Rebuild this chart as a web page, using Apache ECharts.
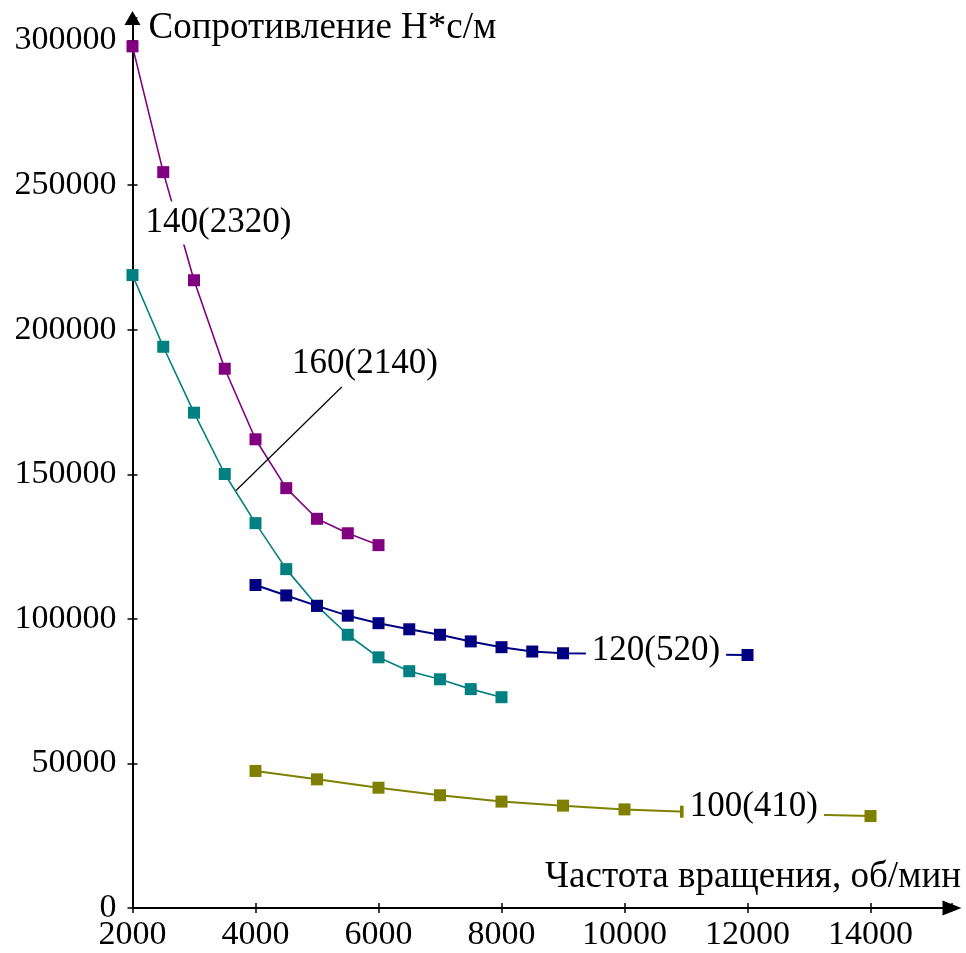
<!DOCTYPE html>
<html>
<head>
<meta charset="utf-8">
<script src="https://cdn.jsdelivr.net/npm/echarts@6/dist/echarts.min.js"></script>
<style>
  html, body { margin: 0; padding: 0; background: #ffffff; }
  #chart { width: 966px; height: 953px; }
</style>
</head>
<body>
<div id="chart"></div>
<script>
// Rotational speed, rpm, and resistance, N*s/m, for four damper settings
const rpm140 = [2000, 2500, 3000, 3500, 4000, 4500, 5000, 5500, 6000];
const res140 = [298000, 254500, 217100, 186500, 162100, 145200, 134600, 129600, 125500];

const rpm160 = [2000, 2500, 3000, 3500, 4000, 4500, 5000, 5500, 6000, 6500, 7000, 7500, 8000];
const res160 = [218900, 194100, 171300, 150100, 133100, 117200, 104500, 94500, 86700, 81900, 79100, 75700, 72900];

const rpm120 = [4000, 4500, 5000, 5500, 6000, 6500, 7000, 7500, 8000, 8500, 9000, 12000];
const res120 = [111700, 108100, 104500, 101100, 98500, 96400, 94500, 92200, 90200, 88700, 88100, 87500];

const rpm100 = [4000, 5000, 6000, 7000, 8000, 9000, 10000, 11000, 14000];
const res100 = [47400, 44500, 41600, 39000, 36800, 35400, 34100, 33300, 31800];

// Curve captions and the leader line for the 160 curve, in data units
const captionText = ['140(2320)', '160(2140)', '120(520)', '100(410)'];
const captionRpm = [3398, 5780, 10512, 12102];
const captionRes = [236900, 188100, 88900, 34900];
const leaderRpm = [5402, 3683];
const leaderRes = [180200, 144400];

// Axis tick labels
const xTicks = [2000, 4000, 6000, 8000, 10000, 12000, 14000];
const yTicks = [0, 50000, 100000, 150000, 200000, 250000, 300000];

const FONT = '"Liberation Serif", "Times New Roman", serif';
const X_MIN = 2000, X_MAX = 15325, Y_MIN = 0, Y_MAX = 307800;

const zip = (xs, ys) => xs.map((x, i) => [x, ys[i]]);

function curve(name, xs, ys, color, width) {
  return {
    name: name,
    type: 'line',
    data: zip(xs, ys),
    symbol: 'rect',
    symbolSize: 12,
    showAllSymbol: true,
    lineStyle: { color: color, width: width },
    itemStyle: { color: color, borderWidth: 0, opacity: 1 },
    emphasis: { disabled: true },
    z: 3
  };
}

const chart = echarts.init(document.getElementById('chart'), null, { renderer: 'canvas' });

const baseX = {
  type: 'value', min: X_MIN, max: X_MAX, interval: 2000,
  splitLine: { show: false }
};
const baseY = {
  type: 'value', min: Y_MIN, max: Y_MAX, interval: 50000,
  splitLine: { show: false }
};

chart.setOption({
  animation: false,
  backgroundColor: '#ffffff',
  textStyle: { fontFamily: FONT },
  grid: { left: 132.5, right: 14, top: 18, bottom: 45, containLabel: false },
  xAxis: [
    Object.assign({}, baseX, {
      position: 'bottom',
      name: 'Частота вращения, об/мин',
      nameLocation: 'end',
      nameGap: 9,
      nameTextStyle: {
        fontFamily: FONT, fontSize: 37, color: '#000',
        align: 'right', verticalAlign: 'bottom', padding: [0, 0, 12, 0]
      },
      axisLine: {
        show: true,
        lineStyle: { color: '#000', width: 2 },
        symbol: ['none', 'triangle'],
        symbolSize: [15, 19]
      },
      axisTick: { show: true, inside: false, length: 5, lineStyle: { color: '#000', width: 1.5 } },
      axisLabel: {
        show: true, margin: 10, fontFamily: FONT, fontSize: 34, color: '#000',
        showMaxLabel: false,
        formatter: v => (xTicks.indexOf(v) >= 0 ? String(v) : '')
      }
    }),
    Object.assign({}, baseX, {
      position: 'bottom',
      axisLine: { show: false },
      axisTick: { show: true, inside: true, length: 5, lineStyle: { color: '#000', width: 1.5 } },
      axisLabel: { show: false }
    })
  ],
  yAxis: [
    Object.assign({}, baseY, {
      position: 'left',
      name: 'Сопротивление Н*с/м',
      nameLocation: 'end',
      nameGap: -10,
      nameTextStyle: {
        fontFamily: FONT, fontSize: 37, color: '#000',
        align: 'left', verticalAlign: 'middle', padding: [0, 0, 0, 16]
      },
      axisLine: {
        show: true,
        lineStyle: { color: '#000', width: 2 },
        symbol: ['none', 'triangle'],
        symbolSize: [16, 14]
      },
      axisTick: { show: true, inside: false, length: 5, lineStyle: { color: '#000', width: 1.5 } },
      axisLabel: {
        show: true, margin: 16, fontFamily: FONT, fontSize: 34, color: '#000',
        showMaxLabel: false,
        formatter: v => (yTicks.indexOf(v) >= 0 ? String(v) : '')
      }
    }),
    Object.assign({}, baseY, {
      position: 'left',
      axisLine: { show: false },
      axisTick: { show: true, inside: true, length: 5, lineStyle: { color: '#000', width: 1.5 } },
      axisLabel: { show: false }
    })
  ],
  series: [
    curve('140(2320)', rpm140, res140, '#800080', 1.6),
    curve('160(2140)', rpm160, res160, '#008080', 1.6),
    curve('120(520)', rpm120, res120, '#000080', 2),
    curve('100(410)', rpm100, res100, '#808000', 2),
    {
      name: 'leader',
      type: 'line',
      data: zip(leaderRpm, leaderRes),
      symbol: 'none',
      lineStyle: { color: '#000', width: 1.2 },
      silent: true,
      z: 5
    },
    {
      name: 'captions',
      type: 'scatter',
      data: captionText.map((t, i) => ({ name: t, value: [captionRpm[i], captionRes[i]] })),
      symbolSize: 0,
      silent: true,
      z: 10,
      itemStyle: { opacity: 1 },
      label: {
        show: true,
        position: 'inside',
        formatter: p => p.name,
        fontFamily: FONT,
        fontSize: 35,
        color: '#000',
        opacity: 1,
        backgroundColor: '#ffffff',
        padding: [4, 6, 4, 6]
      }
    }
  ]
});
</script>
</body>
</html>
